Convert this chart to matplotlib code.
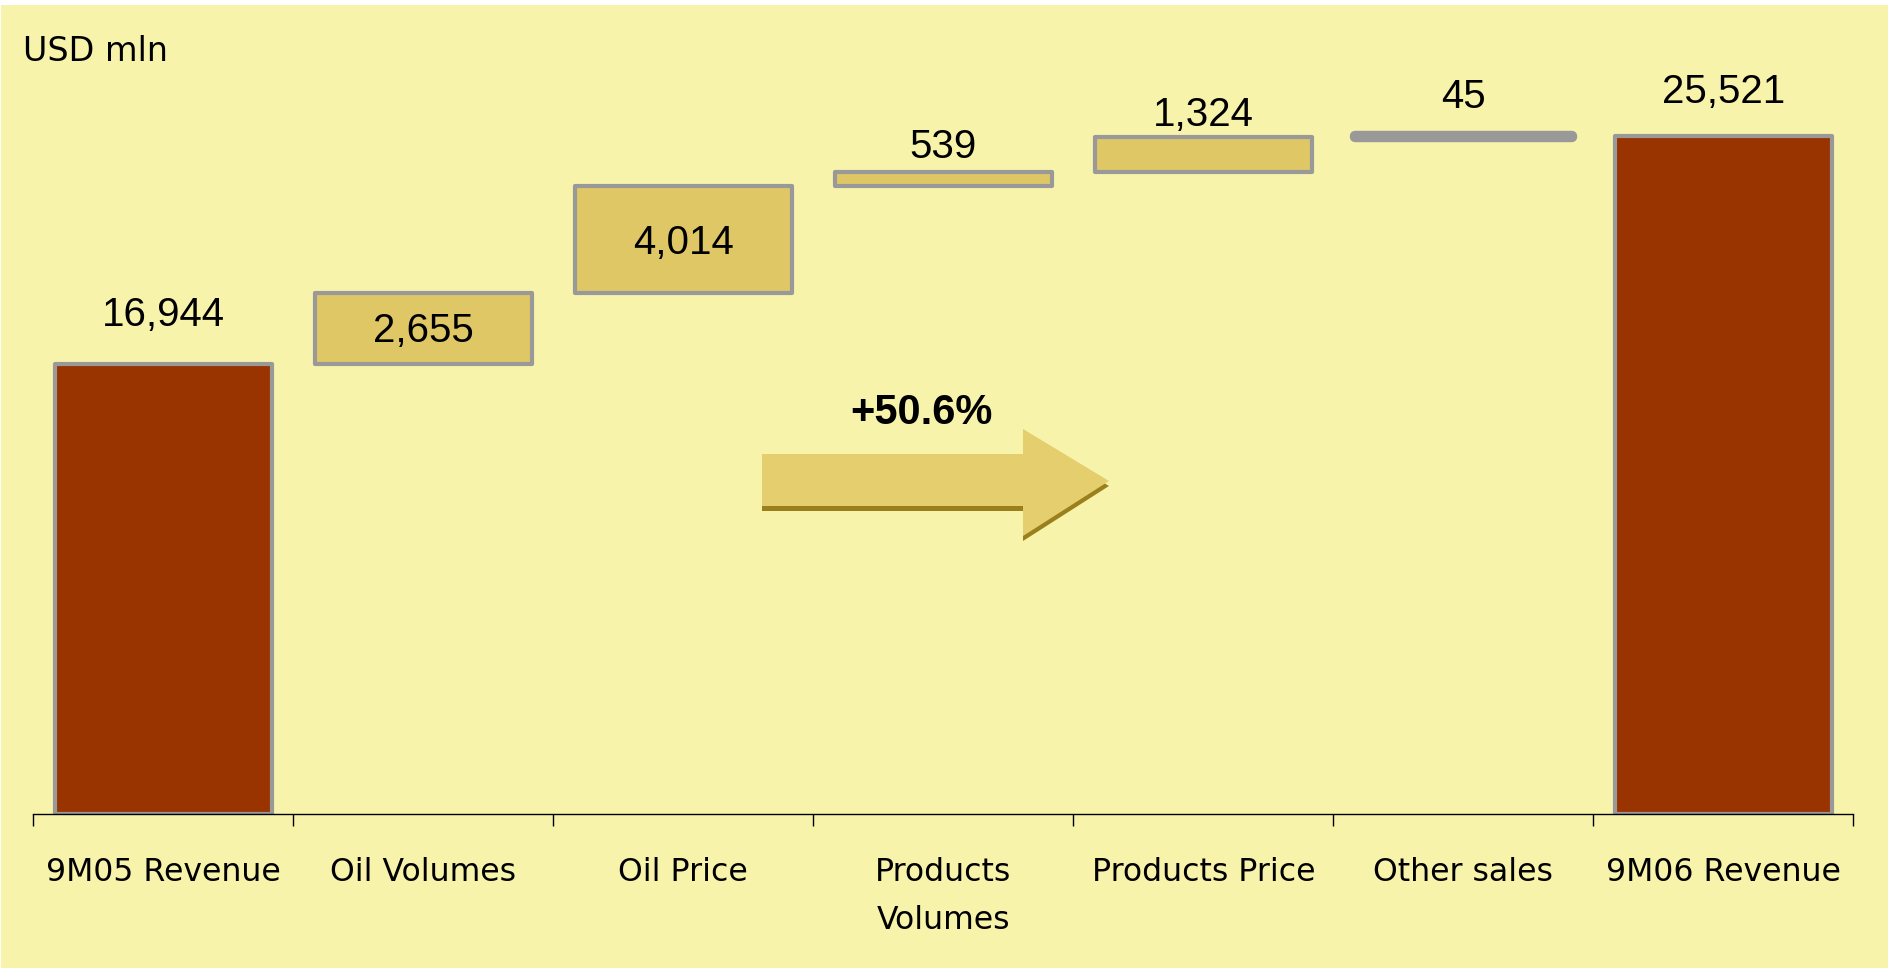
import numpy as np
import matplotlib
matplotlib.use("Agg")
import matplotlib.pyplot as plt
from matplotlib.patches import Polygon, Rectangle

# Datos del puente de ingresos (USD mln)
categories = ["9M05 Revenue", "Oil Volumes", "Oil Price", "Products\nVolumes",
              "Products Price", "Other sales", "9M06 Revenue"]
start_total = 16944
changes = [2655, 4014, 539, 1324, 45]
end_total = 25521
growth_label = "+50.6%"
unit_label = "USD mln"

W, H = 1888, 968
BG = "#F8F3AB"
TOTAL_COLOR = "#993300"
STEP_COLOR = "#DFC765"
EDGE = "#999999"

# bases y alturas de la cascada
steps_bottom = start_total + np.concatenate([[0], np.cumsum(changes)[:-1]])
bottoms = np.concatenate([[0], steps_bottom, [0]])
heights = np.concatenate([[start_total], changes, [end_total]])
colors = [TOTAL_COLOR] + [STEP_COLOR] * len(changes) + [TOTAL_COLOR]
values = [start_total] + changes + [end_total]

fig = plt.figure(figsize=(W / 100, H / 100), dpi=100, facecolor="white")
fig.patches.append(Rectangle((1 / W, 0), 1, 1 - 5 / H, transform=fig.transFigure,
                             facecolor=BG, edgecolor="none", zorder=-10))

ax = fig.add_axes([33.3 / W, 0.15878, 1820 / W, 0.8243])
ax.set_facecolor("none")

x = np.arange(len(categories))
edge_w = [3, 3, 3, 3, 3, 7.5, 3]
bars = ax.bar(x, heights, bottom=bottoms, width=0.835, color=colors,
              edgecolor=EDGE, linewidth=edge_w, zorder=2)
for b in bars:
    b.set_joinstyle("round")

ax.set_xlim(-0.5, len(categories) - 0.5)
ax.set_ylim(0, 30000)

# etiquetas de valores
num_font = dict(family=["Liberation Sans", "DejaVu Sans"], fontsize=29, color="black")
inside = [False, True, True, False, False, False, False]
offsets = [49, 0, 0, 25, 22, 39, 44]
for i, v in enumerate(values):
    if inside[i]:
        y = bottoms[i] + heights[i] / 2
        off = -3
    else:
        y = bottoms[i] + heights[i]
        off = offsets[i]
    ax.annotate(f"{v:,}", xy=(i, y), xytext=(0, off), textcoords="offset pixels",
                ha="center", va="center", zorder=5, **num_font)

# ejes
for s in ["left", "top", "right"]:
    ax.spines[s].set_visible(False)
ax.spines["bottom"].set_color("black")
ax.spines["bottom"].set_linewidth(1)
ax.spines["bottom"].set_zorder(3)
ax.set_yticks([])
ax.set_xticks(np.arange(-0.5, len(categories)))
ax.set_xticklabels([])
ax.tick_params(axis="x", which="major", length=8.6, width=1, color="black")
ax.set_xticks(x, minor=True)
ax.set_xticklabels(categories, minor=True, fontsize=22.7, family="DejaVu Sans")
ax.tick_params(axis="x", which="minor", length=0, pad=31)
for lab in ax.get_xticklabels(minor=True):
    lab.set_linespacing(1.7)

fig.text(23 / W, 1 - 61 / H, unit_label, fontsize=24, family="DejaVu Sans",
         va="baseline", ha="left")

# flecha de crecimiento
def px(pts, dy=0):
    return [(a / W, 1 - (b + dy) / H) for a, b in pts]

arrow_pts = [(762, 454), (1023, 454), (1023, 429), (1109, 481),
             (1023, 536), (1023, 506), (762, 506)]
fig.patches.append(Polygon(px(arrow_pts, 5), closed=True, transform=fig.transFigure,
                           facecolor="#9B7F1C", edgecolor="none", zorder=1))
fig.patches.append(Polygon(px(arrow_pts), closed=True, transform=fig.transFigure,
                           facecolor="#E5CE6E", edgecolor="none", zorder=2))
fig.text(921 / W, 1 - 413 / H, growth_label, fontsize=30, fontweight="bold",
         family=["Liberation Sans", "DejaVu Sans"], ha="center", va="center")

fig.savefig("out.png", dpi=100, facecolor=fig.get_facecolor())
